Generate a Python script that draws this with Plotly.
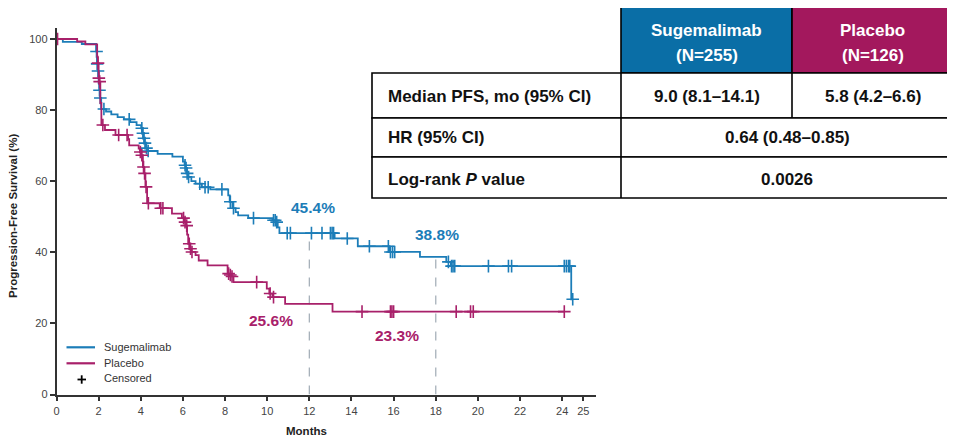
import plotly.graph_objects as go

# ---------------- data ----------------
# Kaplan-Meier step points: (time in months, survival % after the step)
sug_times = [0, 0.3, 1.2, 1.88, 1.92, 1.96, 2.0, 2.03, 2.07, 2.12, 2.35, 2.6, 2.9, 3.2, 3.5, 3.8,
             4.02, 4.08, 4.13, 4.18, 4.24, 4.32, 4.8, 5.5, 6.0, 6.08, 6.13, 6.18, 6.24, 6.4, 6.6,
             6.9, 7.3, 8.15, 8.22, 8.35, 8.5, 8.62, 9.1, 10.25, 10.4, 10.5, 10.58, 13.2, 14.3,
             15.8, 17.25, 18.5, 18.72, 24.43]
sug_surv = [100, 99.2, 98.6, 96.5, 93, 91, 87.5, 85.6, 83.4, 80.3, 79.6, 78.8, 78.0, 77.4, 76.6, 75.8,
            74.9, 73.5, 72.1, 70.7, 69.3, 68.5, 67.7, 66.9, 65.5, 64.5, 63.7, 62.2, 61.2, 60.0, 59.3,
            58.3, 57.7, 56.0, 54.2, 52.4, 51.3, 50.4, 49.6, 49.0, 48.5, 47.0, 45.4, 43.9, 41.7,
            40.1, 38.7, 37.3, 36.1, 26.8]
sug_end = 24.5
sug_censor = [1.9, 1.93, 1.97, 2.04, 2.08, 2.25, 3.45, 4.05, 4.1, 4.15, 4.2, 4.27, 4.35,
              6.1, 6.15, 6.2, 6.27, 6.8, 7.05, 7.2, 7.85, 8.25, 8.4, 9.35, 10.3, 10.38, 10.45,
              10.95, 11.1, 12.1, 12.6, 13.0, 13.08, 13.15, 13.8, 14.85, 15.75, 15.85, 15.95, 16.05,
              18.6, 18.75, 18.82, 18.9, 20.5, 21.45, 21.6, 24.1, 24.2, 24.3, 24.36, 24.5]

pla_times = [0, 0.98, 1.37, 1.93, 1.96, 2.0, 2.03, 2.08, 2.13, 2.3, 2.8, 3.4, 3.45, 3.9, 3.96,
             4.02, 4.1, 4.15, 4.22, 4.3, 4.9, 5.48, 5.95, 6.08, 6.15, 6.2, 6.25, 6.32, 6.4, 6.6,
             6.75, 7.17, 8.12, 8.2, 8.28, 8.4, 9.98, 10.1, 10.25, 10.85, 13.1]
pla_surv = [100, 99.3, 98.5, 95, 93.2, 89, 88, 82, 75.8, 74.4, 73.0, 71.8, 70.1, 69.2, 68.2,
            67.3, 64.0, 62.2, 58.4, 53.8, 52.4, 50.9, 49.6, 48.5, 47.5, 45.0, 42.4, 41.0, 40.1, 39.2,
            37.7, 36.3, 34.0, 33.6, 33.2, 31.6, 29.8, 28.4, 27.4, 25.5, 23.3]
pla_end = 24.1
pla_censor = [0.05, 1.97, 2.01, 2.05, 2.2, 2.95, 3.35, 3.98, 4.05, 4.13, 4.18, 4.25, 4.36,
              4.95, 5.05, 6.03, 6.1, 6.18, 6.3, 6.36, 6.43, 8.17, 8.25, 8.33, 9.5, 10.14, 10.3,
              14.5, 15.85, 15.92, 16.0, 18.97, 19.65, 19.78, 24.1]

landmark_months = [12, 18]
sug_landmark_labels = ["45.4%", "38.8%"]
pla_landmark_labels = ["25.6%", "23.3%"]

x_ticks = [0, 2, 4, 6, 8, 10, 12, 14, 16, 18, 20, 22, 24, 25]
y_ticks = [0, 20, 40, 60, 80, 100]

arm_names = ["Sugemalimab", "Placebo"]
arm_n = ["(N=255)", "(N=126)"]
row_labels = ["Median PFS, mo (95% CI)", "HR (95% CI)", "Log-rank <i>P</i> value"]
median_pfs = ["9.0 (8.1–14.1)", "5.8 (4.2–6.6)"]
hr_text = "0.64 (0.48–0.85)"
p_text = "0.0026"

# ---------------- style ----------------
BLUE = "#1c7db8"
MAG = "#a8206a"
HBLUE = "#0a6ea6"
HMAG = "#a3185d"
W, H = 955, 438
OFF = 8  # page body margin offset
FONT = "Liberation Sans, Arial, sans-serif"


def surv_at(times, surv, t):
    v = surv[0]
    for ti, si in zip(times, surv):
        if ti <= t:
            v = si
    return v


def px(x):
    return (x - OFF) / W


def py(y):
    return 1 - (y - OFF) / H


def ann(x, y, text, size, color, xanchor="center", **kw):
    return dict(x=px(x), y=py(y), xref="paper", yref="paper", text=text, showarrow=False,
                xanchor=xanchor, yanchor="middle", font=dict(family=FONT, size=size, color=color), **kw)


fig = go.Figure()

for times, surv, end, cens, col, name in [
    (sug_times, sug_surv, sug_end, sug_censor, BLUE, "Sugemalimab"),
    (pla_times, pla_surv, pla_end, pla_censor, MAG, "Placebo"),
]:
    fig.add_trace(go.Scatter(x=times + [end], y=surv + [surv[-1]], mode="lines",
                             line=dict(color=col, width=1.8, shape="hv"),
                             name=name, showlegend=False, hoverinfo="skip"))
    fig.add_trace(go.Scatter(x=cens, y=[surv_at(times, surv, t) for t in cens], mode="markers",
                             marker=dict(symbol="cross-thin", size=9,
                                         line=dict(color=col, width=1.6)),
                             cliponaxis=False, showlegend=False, hoverinfo="skip"))

shapes = []
annotations = []

# landmark dashed lines
for m in landmark_months:
    top = surv_at(sug_times, sug_surv, m)
    shapes.append(dict(type="line", xref="x", yref="y", x0=m, x1=m, y0=0, y1=top,
                       line=dict(color="#a7b1ba", width=1.3, dash="dash"), layer="below"))

lab_pos_sug = [(12.17, 52.6), (18.05, 44.9)]
lab_pos_pla = [(10.18, 20.8), (16.15, 16.5)]
for txt, (x, y) in zip(sug_landmark_labels, lab_pos_sug):
    annotations.append(dict(x=x, y=y, xref="x", yref="y", text=f"<b>{txt}</b>", showarrow=False,
                            xanchor="center", yanchor="middle",
                            font=dict(family=FONT, size=15.5, color=BLUE)))
for txt, (x, y) in zip(pla_landmark_labels, lab_pos_pla):
    annotations.append(dict(x=x, y=y, xref="x", yref="y", text=f"<b>{txt}</b>", showarrow=False,
                            xanchor="center", yanchor="middle",
                            font=dict(family=FONT, size=15.5, color=MAG)))


def pline(x0, x1, y0, y1, color, width):
    return dict(type="line", xref="paper", yref="paper", x0=px(x0), x1=px(x1), y0=py(y0), y1=py(y1),
                line=dict(color=color, width=width))


# legend (manual)
shapes.append(pline(66.5, 95, 347.3, 347.3, BLUE, 2.2))
shapes.append(pline(66.5, 95, 363.3, 363.3, MAG, 2.2))
shapes.append(pline(77.5, 86, 379.5, 379.5, "black", 1.8))
shapes.append(pline(81.7, 81.7, 375.3, 383.7, "black", 1.8))
for txt, yy in zip(arm_names + ["Censored"], [346.5, 362.5, 377.5]):
    annotations.append(ann(101.5, yy, txt, 11, "#333", xanchor="left"))

# table
TL, C1, C2, TR = 372, 621, 792, 953
TY0, R1, R2, R3, R4 = 5, 73, 118, 157, 198
border = dict(color="black", width=1.6)


def prect(x0, x1, y0, y1, fill):
    return dict(type="rect", xref="paper", yref="paper", x0=px(x0), x1=px(x1), y0=py(y1), y1=py(y0),
                fillcolor=fill, line=border)


shapes.append(prect(C1, C2, TY0, R1, HBLUE))
shapes.append(prect(C2, TR, TY0, R1, HMAG))
for y0, y1 in [(R1, R2), (R2, R3), (R3, R4)]:
    shapes.append(prect(TL, TR, y0, y1, "white"))
shapes.append(pline(C1, C1, R1, R4, "black", 1.6))
shapes.append(pline(C2, C2, R1, R2, "black", 1.6))

hdr_cx = [(C1 + C2) / 2, (C2 + TR) / 2]
for cx, nm, n in zip(hdr_cx, arm_names, arm_n):
    annotations.append(ann(cx, 30, f"<b>{nm}</b>", 17, "white"))
    annotations.append(ann(cx, 55, f"<b>{n}</b>", 17, "white"))
row_y = [97, 137, 179]
for lab, yy in zip(row_labels, row_y):
    annotations.append(ann(386, yy, f"<b>{lab}</b>", 17, "#111", xanchor="left"))
for cx, v in zip(hdr_cx, median_pfs):
    annotations.append(ann(cx, row_y[0], f"<b>{v}</b>", 17, "#111"))
for v, yy in zip([hr_text, p_text], row_y[1:]):
    annotations.append(ann((C1 + TR) / 2, yy, f"<b>{v}</b>", 17, "#111"))

# axis titles
annotations.append(ann(13, 216, "<b>Progression-Free Survival (%)</b>", 11.5, "#222", textangle=-90))
annotations.append(ann(306, 431, "<b>Months</b>", 11.5, "#222"))

X0, X1 = 56.5, 596
Y0, YT = 394.5, 28.3
PXM = 21.07
PYU = 3.555
fig.update_layout(
    width=W, height=H,
    margin=dict(l=0, r=0, t=0, b=0, autoexpand=False),
    paper_bgcolor="white", plot_bgcolor="white",
    shapes=shapes, annotations=annotations,
    xaxis=dict(domain=[px(X0), px(X1)], range=[0, (X1 - X0) / PXM], tickvals=x_ticks, automargin=False,
               showgrid=False, zeroline=False, showline=True, linecolor="#333", linewidth=1.6,
               ticks="outside", ticklen=5, tickwidth=1.5, tickcolor="#333",
               tickfont=dict(family=FONT, size=11, color="#444")),
    yaxis=dict(domain=[py(Y0), py(YT)], range=[0, (Y0 - YT) / PYU], tickvals=y_ticks, automargin=False,
               showgrid=False, zeroline=False, showline=True, linecolor="#333", linewidth=1.6,
               ticks="outside", ticklen=5, tickwidth=1.5, tickcolor="#333",
               tickfont=dict(family=FONT, size=11, color="#444")),
    font=dict(family=FONT),
)

fig.write_html("out.html")
